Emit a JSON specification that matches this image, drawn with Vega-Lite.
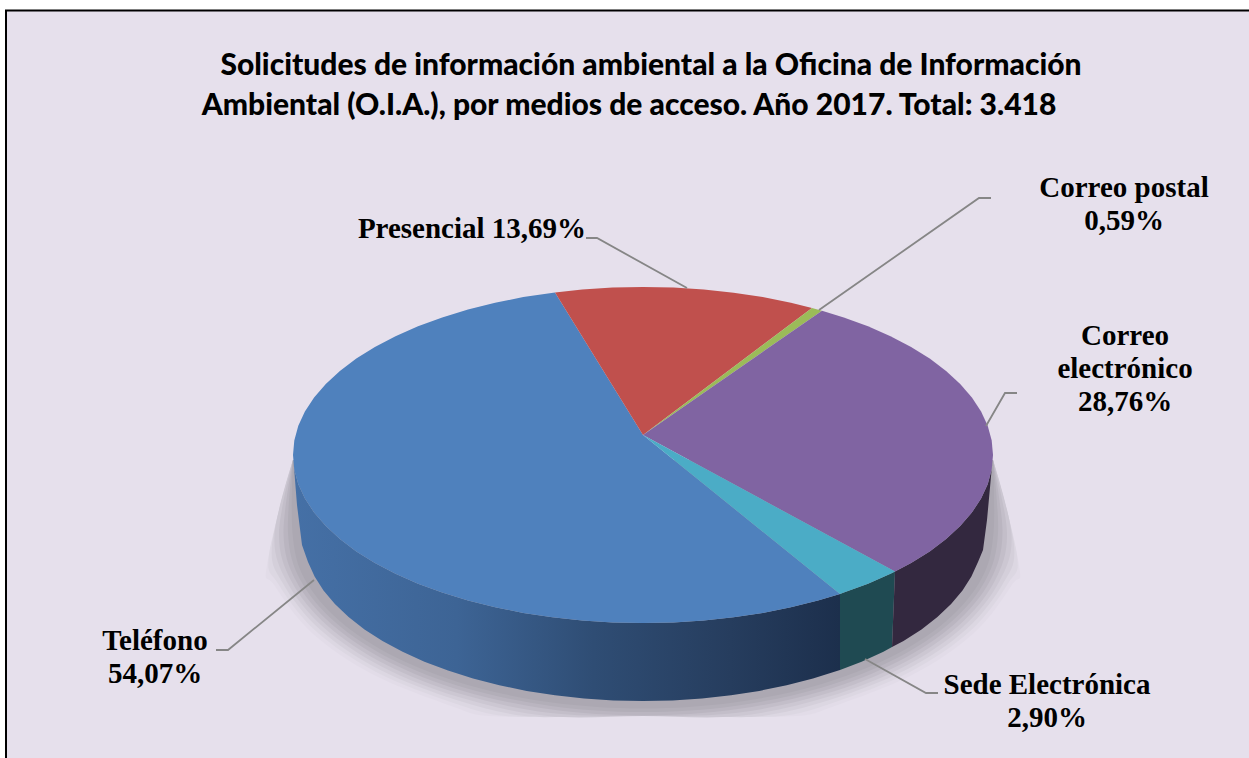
{"$schema":"https://vega.github.io/schema/vega-lite/v6.json","width":1249,"height":758,"autosize":{"type":"fit","contains":"padding"},"padding":0,"background":"white","view":{"stroke":null},"config":{"axis":{"disable":true}},
"datasets":{
"sombraA":[{"x":-350,"y":-5},{"x":-376,"y":-110},{"x":-369,"y":-129.8},{"x":-331,"y":-178},{"x":-270,"y":-219.4},{"x":-191,"y":-251.2},{"x":-154,"y":-261},{"x":-77,"y":-261},{"x":0,"y":-261},{"x":77,"y":-261},{"x":154,"y":-261},{"x":191,"y":-251.2},{"x":270,"y":-219.4},{"x":331,"y":-178},{"x":369,"y":-129.8},{"x":376,"y":-110},{"x":350,"y":-5}],
"sombraB":[{"x":-350,"y":-5},{"x":-374,"y":-100},{"x":-364.7,"y":-128.9},{"x":-326.9,"y":-176.3},{"x":-266.9,"y":-216.9},{"x":-188.8,"y":-248.2},{"x":-137.6,"y":-261},{"x":-69,"y":-261},{"x":0,"y":-261},{"x":69,"y":-261},{"x":137.6,"y":-261},{"x":188.8,"y":-248.2},{"x":266.9,"y":-216.9},{"x":326.9,"y":-176.3},{"x":364.7,"y":-128.9},{"x":374,"y":-100},{"x":350,"y":-5}],
"sombraC":[{"x":-350,"y":-5},{"x":-371,"y":-90},{"x":-360.3,"y":-128},{"x":-323,"y":-174.5},{"x":-263.7,"y":-214.5},{"x":-186.5,"y":-245.1},{"x":-118.6,"y":-261},{"x":-59,"y":-261},{"x":0,"y":-261},{"x":59,"y":-261},{"x":118.6,"y":-261},{"x":186.5,"y":-245.1},{"x":263.7,"y":-214.5},{"x":323,"y":-174.5},{"x":360.3,"y":-128},{"x":371,"y":-90},{"x":350,"y":-5}],
"sombraD":[{"x":-350,"y":-5},{"x":-368.5,"y":-80},{"x":-356,"y":-127.1},{"x":-319.1,"y":-172.8},{"x":-260.5,"y":-212},{"x":-184.3,"y":-242.1},{"x":-95.4,"y":-261},{"x":0,"y":-261},{"x":95.4,"y":-261},{"x":184.3,"y":-242.1},{"x":260.5,"y":-212},{"x":319.1,"y":-172.8},{"x":356,"y":-127.1},{"x":368.5,"y":-80},{"x":350,"y":-5}],
"sombraE":[{"x":-350,"y":-5},{"x":-364,"y":-78},{"x":-351.6,"y":-126.2},{"x":-315.2,"y":-171},{"x":-257.3,"y":-209.5},{"x":-182,"y":-239.1},{"x":-94.3,"y":-257.7},{"x":0,"y":-261},{"x":94.3,"y":-257.7},{"x":182,"y":-239.1},{"x":257.3,"y":-209.5},{"x":315.2,"y":-171},{"x":351.6,"y":-126.2},{"x":364,"y":-78},{"x":350,"y":-5}],
"sombraF":[{"x":-350,"y":-5},{"x":-359.5,"y":-78},{"x":-347.3,"y":-125.3},{"x":-311.3,"y":-169.3},{"x":-254.2,"y":-207},{"x":-179.8,"y":-236},{"x":-93.1,"y":-254.3},{"x":0,"y":-260.5},{"x":93.1,"y":-254.3},{"x":179.8,"y":-236},{"x":254.2,"y":-207},{"x":311.3,"y":-169.3},{"x":347.3,"y":-125.3},{"x":359.5,"y":-78},{"x":350,"y":-5}],
"sombraG":[{"x":-350,"y":-5},{"x":-355,"y":-78},{"x":-342.9,"y":-124.4},{"x":-307.4,"y":-167.5},{"x":-251,"y":-204.6},{"x":-177.5,"y":-233},{"x":-91.9,"y":-250.9},{"x":0,"y":-257},{"x":91.9,"y":-250.9},{"x":177.5,"y":-233},{"x":251,"y":-204.6},{"x":307.4,"y":-167.5},{"x":342.9,"y":-124.4},{"x":355,"y":-78},{"x":350,"y":-5}],
"sombraH":[{"x":-350,"y":-5},{"x":-350.5,"y":-78},{"x":-338.6,"y":-123.5},{"x":-303.5,"y":-165.8},{"x":-247.8,"y":-202.1},{"x":-175.3,"y":-230},{"x":-90.8,"y":-247.5},{"x":0,"y":-253.5},{"x":90.8,"y":-247.5},{"x":175.3,"y":-230},{"x":247.8,"y":-202.1},{"x":303.5,"y":-165.8},{"x":338.6,"y":-123.5},{"x":350.5,"y":-78},{"x":350,"y":-5}],
"lateralTelefono":[{"x":-350,"y":0},{"x":-348.7,"y":-14.6},{"x":-344.7,"y":-29.2},{"x":-338.1,"y":-43.5},{"x":-328.9,"y":-57.5},{"x":-317.2,"y":-71},{"x":-303.1,"y":-84},{"x":-286.7,"y":-96.4},{"x":-268.1,"y":-108},{"x":-247.5,"y":-118.8},{"x":-225,"y":-128.7},{"x":-200.8,"y":-137.6},{"x":-175,"y":-145.5},{"x":-147.9,"y":-152.3},{"x":-119.7,"y":-157.9},{"x":-90.6,"y":-162.3},{"x":-60.8,"y":-165.4},{"x":-30.5,"y":-167.4},{"x":0,"y":-168},{"x":30.5,"y":-167.4},{"x":60.8,"y":-165.4},{"x":90.6,"y":-162.3},{"x":119.7,"y":-157.9},{"x":147.9,"y":-152.3},{"x":175,"y":-145.5},{"x":197,"y":-139},{"x":197,"y":-215},{"x":170,"y":-223.5},{"x":143.7,"y":-230.3},{"x":116.3,"y":-235.9},{"x":88,"y":-240.3},{"x":59,"y":-243.4},{"x":29.6,"y":-245.4},{"x":0,"y":-246},{"x":-29.6,"y":-245.4},{"x":-59,"y":-243.4},{"x":-88,"y":-240.3},{"x":-116.3,"y":-235.9},{"x":-143.7,"y":-230.3},{"x":-170,"y":-223.5},{"x":-195,"y":-215.6},{"x":-218.6,"y":-206.7},{"x":-240.4,"y":-196.8},{"x":-260.5,"y":-186},{"x":-278.5,"y":-174.4},{"x":-294.4,"y":-162},{"x":-308.1,"y":-149},{"x":-319.5,"y":-135.5},{"x":-328.4,"y":-121.5},{"x":-335,"y":-107},{"x":-341,"y":-90},{"x":-346,"y":-50}],
"lateralSede":[{"x":197,"y":-139},{"x":200.8,"y":-137.6},{"x":225,"y":-128.7},{"x":247.5,"y":-118.8},{"x":252,"y":-116.6},{"x":249,"y":-192},{"x":240.4,"y":-196.8},{"x":218.6,"y":-206.7},{"x":197,"y":-215}],
"lateralCorreo":[{"x":252,"y":-116.6},{"x":268.1,"y":-108},{"x":286.7,"y":-96.4},{"x":303.1,"y":-84},{"x":317.2,"y":-71},{"x":328.9,"y":-57.5},{"x":338.1,"y":-43.5},{"x":344.7,"y":-29.2},{"x":348.7,"y":-14.6},{"x":350,"y":0},{"x":344,"y":-65},{"x":340,"y":-95},{"x":335,"y":-107},{"x":328.4,"y":-121.5},{"x":319.5,"y":-135.5},{"x":308.1,"y":-149},{"x":294.4,"y":-162},{"x":278.5,"y":-174.4},{"x":260.5,"y":-186},{"x":249,"y":-192}],
"telefono":[{"x":0,"y":20},{"x":197,"y":-139},{"x":175,"y":-145.5},{"x":147.9,"y":-152.3},{"x":119.7,"y":-157.9},{"x":90.6,"y":-162.3},{"x":60.8,"y":-165.4},{"x":30.5,"y":-167.4},{"x":0,"y":-168},{"x":-30.5,"y":-167.4},{"x":-60.8,"y":-165.4},{"x":-90.6,"y":-162.3},{"x":-119.7,"y":-157.9},{"x":-147.9,"y":-152.3},{"x":-175,"y":-145.5},{"x":-200.8,"y":-137.6},{"x":-225,"y":-128.7},{"x":-247.5,"y":-118.8},{"x":-268.1,"y":-108},{"x":-286.7,"y":-96.4},{"x":-303.1,"y":-84},{"x":-317.2,"y":-71},{"x":-328.9,"y":-57.5},{"x":-338.1,"y":-43.5},{"x":-344.7,"y":-29.2},{"x":-348.7,"y":-14.6},{"x":-350,"y":0},{"x":-348.7,"y":14.6},{"x":-344.7,"y":29.2},{"x":-338.1,"y":43.5},{"x":-328.9,"y":57.5},{"x":-317.2,"y":71},{"x":-303.1,"y":84},{"x":-286.7,"y":96.4},{"x":-268.1,"y":108},{"x":-247.5,"y":118.8},{"x":-225,"y":128.7},{"x":-200.8,"y":137.6},{"x":-175,"y":145.5},{"x":-147.9,"y":152.3},{"x":-119.7,"y":157.9},{"x":-88,"y":162.6}],
"presencial":[{"x":0,"y":20},{"x":-88,"y":162.6},{"x":-60.8,"y":165.4},{"x":-30.5,"y":167.4},{"x":0,"y":168},{"x":30.5,"y":167.4},{"x":60.8,"y":165.4},{"x":90.6,"y":162.3},{"x":119.7,"y":157.9},{"x":147.9,"y":152.3},{"x":169,"y":147}],
"postal":[{"x":0,"y":20},{"x":169,"y":147},{"x":179,"y":144.3}],
"correo":[{"x":0,"y":20},{"x":179,"y":144.3},{"x":200.8,"y":137.6},{"x":225,"y":128.7},{"x":247.5,"y":118.8},{"x":268.1,"y":108},{"x":286.7,"y":96.4},{"x":303.1,"y":84},{"x":317.2,"y":71},{"x":328.9,"y":57.5},{"x":338.1,"y":43.5},{"x":344.7,"y":29.2},{"x":348.7,"y":14.6},{"x":350,"y":0},{"x":348.7,"y":-14.6},{"x":344.7,"y":-29.2},{"x":338.1,"y":-43.5},{"x":328.9,"y":-57.5},{"x":317.2,"y":-71},{"x":303.1,"y":-84},{"x":286.7,"y":-96.4},{"x":268.1,"y":-108},{"x":252,"y":-116.6}],
"sede":[{"x":0,"y":20},{"x":252,"y":-116.6},{"x":247.5,"y":-118.8},{"x":225,"y":-128.7},{"x":200.8,"y":-137.6},{"x":197,"y":-139}],
"guias":[
{"medio":"Presencial","x":-57,"y":217},{"medio":"Presencial","x":-46,"y":217},{"medio":"Presencial","x":44,"y":167},
{"medio":"Correo postal","x":348,"y":257},{"medio":"Correo postal","x":336,"y":257},{"medio":"Correo postal","x":176,"y":145},
{"medio":"Correo electrónico","x":374,"y":62},{"medio":"Correo electrónico","x":362,"y":62},{"medio":"Correo electrónico","x":343,"y":29},
{"medio":"Sede Electrónica","x":295,"y":-238},{"medio":"Sede Electrónica","x":283,"y":-238},{"medio":"Sede Electrónica","x":222,"y":-204},
{"medio":"Teléfono","x":-427,"y":-195},{"medio":"Teléfono","x":-415,"y":-195},{"medio":"Teléfono","x":-329,"y":-125}
],
"etiquetas":[
{"medio":"Presencial","porcentaje":13.69,"etiqueta":"Presencial 13,69%","x":-171,"y":217},
{"medio":"Correo postal","porcentaje":0.59,"etiqueta":"Correo postal\n0,59%","x":481,"y":258},
{"medio":"Correo electrónico","porcentaje":28.76,"etiqueta":"Correo\nelectrónico\n28,76%","x":482,"y":110},
{"medio":"Sede Electrónica","porcentaje":2.90,"etiqueta":"Sede Electrónica\n2,90%","x":404,"y":-239},
{"medio":"Teléfono","porcentaje":54.07,"etiqueta":"Teléfono\n54,07%","x":-488,"y":-195}
],
"titulo":[
{"texto":"Solicitudes de  información ambiental a la Oficina de Información","x":8,"y":380},
{"texto":"Ambiental (O.I.A.), por medios de acceso.  Año 2017. Total: 3.418","x":-14,"y":340}
],
"marco":[{"x":-637,"x2":620,"y":444.5,"y2":-320}]
},
"encoding":{"x":{"field":"x","type":"quantitative","axis":null,"scale":{"domain":[-643,606],"nice":false,"zero":false}},"y":{"field":"y","type":"quantitative","axis":null,"scale":{"domain":[-303,455],"nice":false,"zero":false}},"order":{"value":null}},
"layer":[
{"data":{"name":"marco"},"mark":{"type":"rect","fill":"#E6E0EC","stroke":"#000000","strokeWidth":2,"clip":true},"encoding":{"x2":{"field":"x2"},"y2":{"field":"y2"}}},
{"data":{"name":"sombraA"},"mark":{"type":"line","strokeWidth":0,"interpolate":"cardinal","fill":"#E2DCE8"}},
{"data":{"name":"sombraB"},"mark":{"type":"line","strokeWidth":0,"interpolate":"cardinal","fill":"#DCD7E2"}},
{"data":{"name":"sombraC"},"mark":{"type":"line","strokeWidth":0,"interpolate":"cardinal","fill":"#D4CFDA"}},
{"data":{"name":"sombraD"},"mark":{"type":"line","strokeWidth":0,"interpolate":"cardinal","fill":"#CCC7D2"}},
{"data":{"name":"sombraE"},"mark":{"type":"line","strokeWidth":0,"interpolate":"cardinal","fill":"#C3BEC9"}},
{"data":{"name":"sombraF"},"mark":{"type":"line","strokeWidth":0,"interpolate":"cardinal","fill":"#BAB5C0"}},
{"data":{"name":"sombraG"},"mark":{"type":"line","strokeWidth":0,"interpolate":"cardinal","fill":"#B2AEB8"}},
{"data":{"name":"sombraH"},"mark":{"type":"line","strokeWidth":0,"interpolate":"cardinal","fill":"#ACA8B2"}},
{"data":{"name":"lateralTelefono"},"mark":{"type":"line","strokeWidth":0,"fill":{"gradient":"linear","x1":0,"y1":0,"x2":1,"y2":0,"stops":[{"offset":0,"color":"#4570a6"},{"offset":0.3,"color":"#3d6495"},{"offset":0.55,"color":"#2f4d74"},{"offset":0.8,"color":"#263d5e"},{"offset":1,"color":"#1c2f4c"}]}}},
{"data":{"name":"lateralSede"},"mark":{"type":"line","strokeWidth":0,"fill":"#1f4a52"}},
{"data":{"name":"lateralCorreo"},"mark":{"type":"line","strokeWidth":0,"fill":"#33283f"}},
{"data":{"name":"telefono"},"mark":{"type":"line","strokeWidth":0,"fill":"#4F81BD"}},
{"data":{"name":"presencial"},"mark":{"type":"line","strokeWidth":0,"fill":"#C0504D"}},
{"data":{"name":"postal"},"mark":{"type":"line","strokeWidth":0,"fill":"#9BBB59"}},
{"data":{"name":"correo"},"mark":{"type":"line","strokeWidth":0,"fill":"#8064A2"}},
{"data":{"name":"sede"},"mark":{"type":"line","strokeWidth":0,"fill":"#4BACC6"}},
{"data":{"name":"guias"},"mark":{"type":"line","stroke":"#868686","strokeWidth":1.8},"encoding":{"detail":{"field":"medio"}}},
{"data":{"name":"etiquetas"},"mark":{"type":"text","font":"Liberation Serif","fontWeight":"bold","fontSize":29,"lineHeight":33,"lineBreak":"\n","align":"center","baseline":"alphabetic","color":"#000000"},"encoding":{"text":{"field":"etiqueta"},"order":null}},
{"data":{"name":"titulo"},"mark":{"type":"text","font":"Lato","fontWeight":900,"fontSize":30,"align":"center","baseline":"alphabetic","color":"#000000"},"encoding":{"text":{"field":"texto"},"order":null}}
]}
